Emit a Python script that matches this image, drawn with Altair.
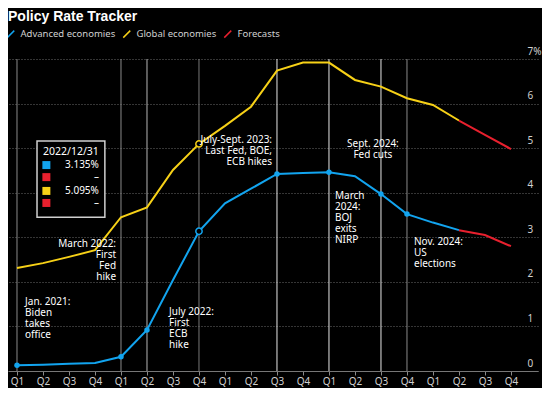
import altair as alt
import pandas as pd

# ---------------- data ----------------
quarter_labels = ["Q1", "Q2", "Q3", "Q4"] * 5
advanced = [0.13, 0.14, 0.16, 0.18, 0.32, 0.92, 2.04, 3.135, 3.76, 4.09,
            4.42, 4.44, 4.46, 4.37, 3.97, 3.52, 3.33, 3.16]
global_econ = [2.31, 2.42, 2.56, 2.71, 3.45, 3.67, 4.51, 5.095, 5.50, 5.93,
               6.74, 6.92, 6.92, 6.53, 6.38, 6.12, 5.97, 5.62]
forecast_start = 17
advanced_fc = [3.16, 3.05, 2.80]
global_fc = [5.62, 5.30, 4.98]

series_names = ["Advanced economies", "Global economies", "Forecasts"]

event_q = [0, 4, 5, 7, 10, 12, 14, 15]
event_kind = ["dim", "dim", "mid", "hover", "bright", "bright", "bright", "dim"]
marker_q = [0, 4, 5, 10, 12, 14, 15]
hover_q = 7

annotation_text = [
    "Jan. 2021:\nBiden\ntakes\noffice",
    "March 2022:\nFirst\nFed\nhike",
    "July 2022:\nFirst\nECB\nhike",
    "July-Sept. 2023:\nLast Fed, BOE,\nECB hikes",
    "March\n2024:\nBOJ\nexits\nNIRP",
    "Sept. 2024:\nFed cuts",
    "Nov. 2024:\nUS\nelections",
]
annotation_align = ["left", "right", "left", "right", "left", "center", "left"]
annotation_x = [0.31, 3.81, 5.85, 9.81, 12.23, 13.69, 15.27]
annotation_y = [1.66, 2.96, 1.44, 5.30, 4.04, 5.20, 3.00]

tooltip_date = "2022/12/31"
tooltip_values = ["3.135%", "\u2013", "5.095%", "\u2013"]
tooltip_series = ["Advanced economies", "Forecasts", "Global economies", "Forecasts"]

# ---------------- styles ----------------
BLUE = "#12a4ef"
YELLOW = "#f7d117"
RED = "#e8202e"
FONT = "Noto Sans"
color_range = [BLUE, YELLOW, RED]

# ---------------- tables ----------------
rows = []
for i, v in enumerate(advanced):
    rows.append({"q": i, "v": v, "series": "Advanced economies", "line": "adv"})
for i, v in enumerate(global_econ):
    rows.append({"q": i, "v": v, "series": "Global economies", "line": "glob"})
for i, v in enumerate(advanced_fc):
    rows.append({"q": forecast_start + i, "v": v, "series": "Forecasts", "line": "adv_fc"})
for i, v in enumerate(global_fc):
    rows.append({"q": forecast_start + i, "v": v, "series": "Forecasts", "line": "glob_fc"})
lines_df = pd.DataFrame(rows)

events_df = pd.DataFrame({"q": event_q, "kind": event_kind})
markers_df = pd.DataFrame({"q": marker_q, "v": [advanced[i] for i in marker_q]})
hover_df = pd.DataFrame({
    "q": [hover_q, hover_q],
    "v": [advanced[hover_q], global_econ[hover_q]],
    "series": ["Advanced economies", "Global economies"],
})
ann_df = pd.DataFrame({"t": annotation_text, "a": annotation_align,
                       "x": annotation_x, "y": annotation_y})

# tooltip box placement (in data units)
box_df = pd.DataFrame({"x": [0.77], "x2": [3.38], "y": [5.16], "y2": [3.45]})
row_y = [4.62, 4.35, 4.04, 3.77]
tip_rows = pd.DataFrame({"series": tooltip_series, "val": tooltip_values, "y": row_y,
                         "xs": [1.13] * 4, "xt": [3.15] * 4})
tip_head = pd.DataFrame({"t": [tooltip_date], "x": [3.15], "y": [4.91]})

# ---------------- scales / axes ----------------
x_scale = alt.Scale(domain=[-0.346, 20.04], nice=False, zero=False)
y_scale = alt.Scale(domain=[0, 7], nice=False, zero=False)
label_expr = "[" + ",".join("'%s'" % s for s in quarter_labels) + "][datum.value]"
x_axis = alt.Axis(values=list(range(len(quarter_labels))), labelExpr=label_expr,
                  title=None, grid=False, domainColor="#777", tickColor="#888",
                  tickSize=4, labelColor="#d0d0d0", labelFontSize=10, labelFont=FONT,
                  labelPadding=1)
y_axis = alt.Axis(orient="right", values=list(range(8)),
                  labelExpr="datum.value == 7 ? '7%' : datum.value",
                  title=None, grid=True, gridColor="#6a6a6a", gridDash=[1, 2],
                  domain=False, ticks=False, labelAlign="left", labelPadding=-11,
                  labelBaseline="bottom", labelOffset=-3, labelColor="#d0d0d0",
                  labelFontSize=10, labelFont=FONT)


def X(f):
    return alt.X(f, type="quantitative", scale=x_scale, axis=x_axis)


def Y(f):
    return alt.Y(f, type="quantitative", scale=y_scale, axis=y_axis)


color_enc = alt.Color("series:N", scale=alt.Scale(domain=series_names, range=color_range),
                      legend=alt.Legend(orient="none", legendX=-2, legendY=-30,
                                        direction="horizontal", title=None,
                                        symbolType="M-1,1L1,-1", symbolSize=49,
                                        symbolStrokeWidth=1.5, labelColor="#d0d0d0",
                                        labelFontSize=9.5, labelFont=FONT,
                                        labelOffset=5, columnPadding=4, padding=0))

events = alt.Chart(events_df).mark_rule().encode(
    x=X("q"),
    stroke=alt.Stroke("kind:N", scale=alt.Scale(domain=["dim", "mid", "hover", "bright"],
                                                range=["#8a8a8a", "#b5b5b5", "#777777", "#e6e6e6"]),
                      legend=None),
    strokeWidth=alt.StrokeWidth("kind:N", scale=alt.Scale(domain=["dim", "mid", "hover", "bright"],
                                                          range=[1, 1, 2.2, 1]),
                                legend=None),
)

lines = alt.Chart(lines_df).mark_line(strokeWidth=2).encode(
    x=X("q"), y=Y("v"), color=color_enc, detail="line:N")

markers = alt.Chart(markers_df).mark_circle(size=30, opacity=1, color=BLUE).encode(
    x=X("q"), y=Y("v"))

hover = alt.Chart(hover_df).mark_point(size=40, filled=True, fill="black",
                                       strokeWidth=1.5, opacity=1).encode(
    x=X("q"), y=Y("v"),
    stroke=alt.Stroke("series:N", scale=alt.Scale(domain=series_names, range=color_range),
                      legend=None))

ann_layers = []
for al in ["left", "right", "center"]:
    ann_layers.append(
        alt.Chart(ann_df).transform_filter(alt.datum.a == al).mark_text(
            align=al, baseline="top", lineBreak="\n", lineHeight=11,
            fontSize=10, font=FONT, color="white").encode(
            x=X("x"), y=Y("y"), text="t:N"))

box = alt.Chart(box_df).mark_rect(fill="black", stroke="#cfcfcf", strokeWidth=1.5).encode(
    x=X("x"), x2="x2:Q", y=Y("y"), y2="y2:Q")

tip_sq = alt.Chart(tip_rows).mark_square(size=64, opacity=1).encode(
    x=X("xs"), y=Y("y"),
    fill=alt.Fill("series:N", scale=alt.Scale(domain=series_names, range=color_range),
                  legend=None))
tip_txt = alt.Chart(tip_rows).mark_text(align="right", baseline="middle", fontSize=10,
                                        font=FONT, color="white").encode(
    x=X("xt"), y=Y("y"), text="val:N")
tip_hd = alt.Chart(tip_head).mark_text(align="right", baseline="middle", fontSize=10.5,
                                       font=FONT, color="white").encode(
    x=X("x"), y=Y("y"), text="t:N")

chart = alt.layer(events, lines, markers, hover, *ann_layers, box, tip_sq, tip_txt, tip_hd
                  ).resolve_scale(color="independent", stroke="independent", fill="independent"
                  ).properties(
    width=530, height=312,
    autosize=alt.AutoSizeParams(type="none"),
    padding={"left": 0, "top": 51, "right": 4, "bottom": 17},
    title=alt.Title("Policy Rate Tracker", anchor="start", frame="group", fontSize=14,
                    fontWeight="bold", color="white", font="Liberation Sans", offset=5),
).configure(background="black").configure_view(stroke=None)

chart.save("out.html", embed_options={"renderer": "svg", "actions": False})
